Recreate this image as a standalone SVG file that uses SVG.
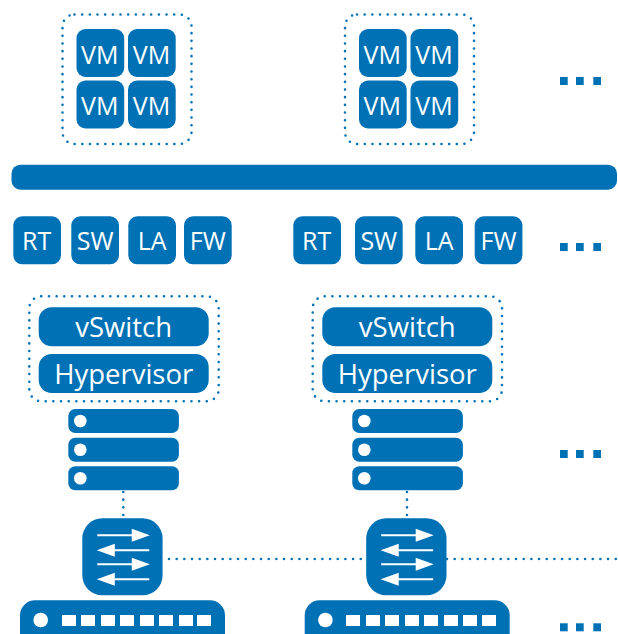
<svg xmlns="http://www.w3.org/2000/svg" width="618" height="634" viewBox="0 0 618 634">
<style>
.b{fill:#0071b5}
.w{fill:#fff}
.d{fill:none;stroke:#0071b5;stroke-width:2.600;stroke-linecap:round;stroke-dasharray:0 7.67}
.t{font-family:"Open Sans","Noto Sans",sans-serif;fill:#fff;text-anchor:middle}
.s{font-size:25px}
.l{font-size:27.500px}
.a{stroke:#fff;stroke-width:2}
</style>
<defs>
<g id="sw-icon">
<rect class="b" x="0" y="0" width="80.3" height="77" rx="20"/>
<path class="a" d="M15 17H50M32 32H67M15 46H50M32 61H67"/>
<path class="w" d="M49.5 10.5L67.5 17L49.5 23.500ZM32.500 25.500L14.500 32L32.500 38.500ZM49.5 39.5L67.5 46L49.5 52.500ZM32.500 54.500L14.500 61L32.500 67.500Z"/>
</g>
<g id="device-icon">
<rect class="b" x="0" y="0" width="205" height="50" rx="15"/>
<circle class="w" cx="20.700" cy="19.700" r="7.300"/>
</g>
<g id="server-icon">
<rect class="b" x="0" y="0" width="110.600" height="24" rx="7"/>
<circle class="w" cx="12" cy="12" r="6.300"/>
</g>
<g id="ell">
<rect class="b" x="0" y="0" width="7.700" height="8"/>
<rect class="b" x="16" y="0" width="7.700" height="8"/>
<rect class="b" x="33.300" y="0" width="7.700" height="8"/>
</g>
</defs>
<g id="connectors">
<path class="d" d="M123.300 492V518"/>
<path class="d" d="M407 492V518"/>
<path class="d" d="M169 559H362"/>
<path class="d" d="M447 559H622"/>
</g>
<g id="vm-group-1">
<rect class="d" x="62.500" y="14.500" width="129" height="129.500" rx="12"/>
<rect class="b" x="76.500" y="29" width="47.700" height="48" rx="9"/><text class="t s" x="99.800" y="63.500">VM</text>
<rect class="b" x="128" y="29" width="47.700" height="48" rx="9"/><text class="t s" x="151.500" y="63.500">VM</text>
<rect class="b" x="76.500" y="80.500" width="47.700" height="48" rx="9"/><text class="t s" x="99.800" y="114.500">VM</text>
<rect class="b" x="128" y="80.500" width="47.700" height="48" rx="9"/><text class="t s" x="151.500" y="114.500">VM</text>
</g>
<g id="vm-group-2">
<rect class="d" x="345" y="14.500" width="129" height="129.500" rx="12"/>
<rect class="b" x="359" y="29" width="47.700" height="48" rx="9"/><text class="t s" x="382.300" y="63.500">VM</text>
<rect class="b" x="410.500" y="29" width="47.700" height="48" rx="9"/><text class="t s" x="434" y="63.500">VM</text>
<rect class="b" x="359" y="80.500" width="47.700" height="48" rx="9"/><text class="t s" x="382.300" y="114.500">VM</text>
<rect class="b" x="410.500" y="80.500" width="47.700" height="48" rx="9"/><text class="t s" x="434" y="114.500">VM</text>
</g>
<g id="ellipsis-1"><use href="#ell" x="560" y="77"/></g>
<g id="bus"><rect class="b" x="11.500" y="164.700" width="605.500" height="25" rx="9"/></g>
<g id="functions-1">
<rect class="b" x="13.300" y="216.300" width="47.700" height="48" rx="9"/><text class="t s" x="36.700" y="249.500">RT</text>
<rect class="b" x="71.300" y="216.300" width="47.700" height="48" rx="9"/><text class="t s" x="95.200" y="249.500">SW</text>
<rect class="b" x="128.300" y="216.300" width="47.700" height="48" rx="9"/><text class="t s" x="152.200" y="249.500">LA</text>
<rect class="b" x="184" y="216.300" width="47.700" height="48" rx="9"/><text class="t s" x="207.800" y="249.500">FW</text>
</g>
<g id="functions-2">
<rect class="b" x="293.300" y="216.300" width="47.700" height="48" rx="9"/><text class="t s" x="316.700" y="249.500">RT</text>
<rect class="b" x="355" y="216.300" width="47.700" height="48" rx="9"/><text class="t s" x="378.800" y="249.500">SW</text>
<rect class="b" x="415.300" y="216.300" width="47.700" height="48" rx="9"/><text class="t s" x="439.200" y="249.500">LA</text>
<rect class="b" x="474.700" y="216.300" width="47.700" height="48" rx="9"/><text class="t s" x="498.500" y="249.500">FW</text>
</g>
<g id="ellipsis-2"><use href="#ell" x="560" y="243"/></g>
<g id="host-1">
<rect class="d" x="29.300" y="296.300" width="189.400" height="105" rx="12"/>
<rect class="b" x="38.700" y="307.300" width="170" height="39" rx="13"/><text class="t l" x="123.700" y="336.500">vSwitch</text>
<rect class="b" x="38.700" y="354" width="170" height="39" rx="13"/><text class="t l" x="123.700" y="383.500">Hypervisor</text>
</g>
<g id="host-2">
<rect class="d" x="312.700" y="296.300" width="189.300" height="105" rx="12"/>
<rect class="b" x="322.300" y="307.300" width="170" height="39" rx="13"/><text class="t l" x="407.300" y="336.500">vSwitch</text>
<rect class="b" x="322.300" y="354" width="170" height="39" rx="13"/><text class="t l" x="407.300" y="383.500">Hypervisor</text>
</g>
<g id="servers-1">
<use href="#server-icon" x="68.300" y="409"/>
<use href="#server-icon" x="68.300" y="437.700"/>
<use href="#server-icon" x="68.300" y="466.300"/>
</g>
<g id="servers-2">
<use href="#server-icon" x="352.300" y="409"/>
<use href="#server-icon" x="352.300" y="437.700"/>
<use href="#server-icon" x="352.300" y="466.300"/>
</g>
<g id="ellipsis-3"><use href="#ell" x="560" y="450"/></g>
<g id="switch-1"><use href="#sw-icon" x="82.300" y="518.300"/></g>
<g id="switch-2"><use href="#sw-icon" x="366.200" y="518.300"/></g>
<g id="device-1">
<use href="#device-icon" x="20" y="600.300"/>
<path class="w" d="M62 615h14v11h-14zM81 615h14v11h-14zM101 615h14v11h-14zM120 615h14v11h-14zM140 615h14v11h-14zM159 615h14v11h-14zM179 615h14v11h-14zM197 615h14v11h-14z"/>
</g>
<g id="device-2">
<use href="#device-icon" x="304.700" y="600.300"/>
<path class="w" d="M346 615h14v11h-14zM366 615h14v11h-14zM385 615h14v11h-14zM405 615h14v11h-14zM424 615h14v11h-14zM444 615h14v11h-14zM463 615h14v11h-14zM482 615h14v11h-14z"/>
</g>
<g id="ellipsis-4"><use href="#ell" x="560" y="623.300"/></g>
</svg>
